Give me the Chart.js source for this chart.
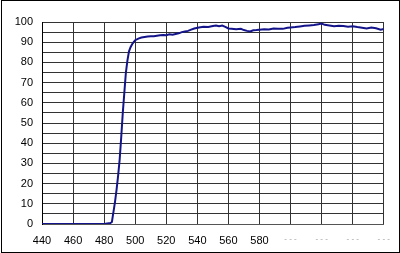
<!DOCTYPE html>
<html><head><meta charset="utf-8">
<script src="https://cdn.jsdelivr.net/npm/chart.js@4/dist/chart.umd.min.js"></script>
<style>html,body{margin:0;padding:0;background:#fff}#wrap{width:400px;height:253px}</style>
</head><body><div id="wrap"><canvas id="c" width="400" height="253"></canvas></div>
<script>
const wavelengths = [440,450,460,470,480,482,484,485,486,487,488,489,490,491,492,493,494,495,496,497,498,499,500,502,504,506,508,510,512,514,516,518,520,522,524,526,528,530,532,534,536,538,541,544,547,550,552,554,556,558,560,562,565,568,570,572,574,576,578,580,583,586,589,592,595,598,600,603,606,609,612,615,618,620,622,625,628,631,634,637,640,643,646,649,652,655,658,660];
const transmittance = [0,0,0,0,0,0.3,0.5,1,6,11,17,24,32,43,55,65,75,81,85.5,87.5,89,90,91,91.8,92.3,92.6,92.8,93.0,92.9,93.2,93.4,93.6,93.5,93.9,93.7,94.1,94.4,95.0,95.3,95.6,96.2,96.8,97.3,97.6,97.5,98.0,98.3,97.9,98.2,97.6,96.8,96.7,96.4,96.6,96.0,95.6,95.3,95.9,96.0,96.2,96.4,96.3,96.8,96.7,96.6,97.1,97.3,97.5,97.8,98.1,98.3,98.5,98.9,99.2,98.6,98.3,97.9,98.2,98.0,97.7,97.9,97.5,97.2,96.8,97.3,96.9,96.2,96.5];
const xTickValues = [440,460,480,500,520,540,560,580,600,620,640,660];
const xTickLabels = ['440','460','480','500','520','540','560','580','- - -','- - -','- - -','- - -'];
const yTickValues = [0,10,20,30,40,50,60,70,80,90,100];

const frame = {
  id:'frame',
  afterDraw(chart){
    const ctx = chart.ctx;
    ctx.save();
    ctx.fillStyle = '#000';
    ctx.fillRect(1,0,399,1);
    ctx.fillRect(1,252,399,1);
    ctx.fillRect(1,0,1,253);
    ctx.fillRect(399,0,1,253);
    ctx.restore();
  }
};

new Chart(document.getElementById('c'), {
  type:'line',
  data:{
    datasets:[{
      data: wavelengths.map((w,i)=>({x:w,y:transmittance[i]})),
      borderColor:'#14148a',
      borderWidth:2,
      pointRadius:0,
      tension:0,
      fill:false
    }]
  },
  options:{
    responsive:false,
    animation:false,
    devicePixelRatio:1,
    layout:{padding:{left:0,right:15,top:22,bottom:0}},
    plugins:{legend:{display:false},tooltip:{enabled:false}},
    scales:{
      x:{
        type:'linear', min:440, max:660,
        afterBuildTicks(s){ s.ticks = xTickValues.map(v=>({value:v})); },
        afterFit(s){ s.height = 29; },
        grid:{color:'#333',lineWidth:1,drawTicks:false},
        border:{color:'#555',width:1},
        ticks:{
          padding:10,
          callback:(v)=>{const i=xTickValues.indexOf(v);return i>=0?xTickLabels[i]:'';},
          color:(c)=> (c.tick && c.tick.value>=600) ? '#999' : '#000',
          font:(c)=> (c.tick && c.tick.value>=600) ? {family:'Liberation Sans',size:8} : {family:'Liberation Sans',size:11},
          maxRotation:0, autoSkip:false
        }
      },
      y:{
        min:0, max:100,
        afterBuildTicks(s){ const t=[]; for(let v=0;v<=100;v+=5) t.push({value:v}); s.ticks=t; },
        afterFit(s){ s.width = 42; },
        grid:{color:'#333',lineWidth:1,drawTicks:false},
        border:{color:'#000',width:1},
        ticks:{
          padding:9,
          callback:(v)=> yTickValues.includes(v) ? String(v) : '',
          color:'#000',
          font:{family:'Liberation Sans',size:11},
          autoSkip:false
        }
      }
    }
  },
  plugins:[frame]
});
</script></body></html>
